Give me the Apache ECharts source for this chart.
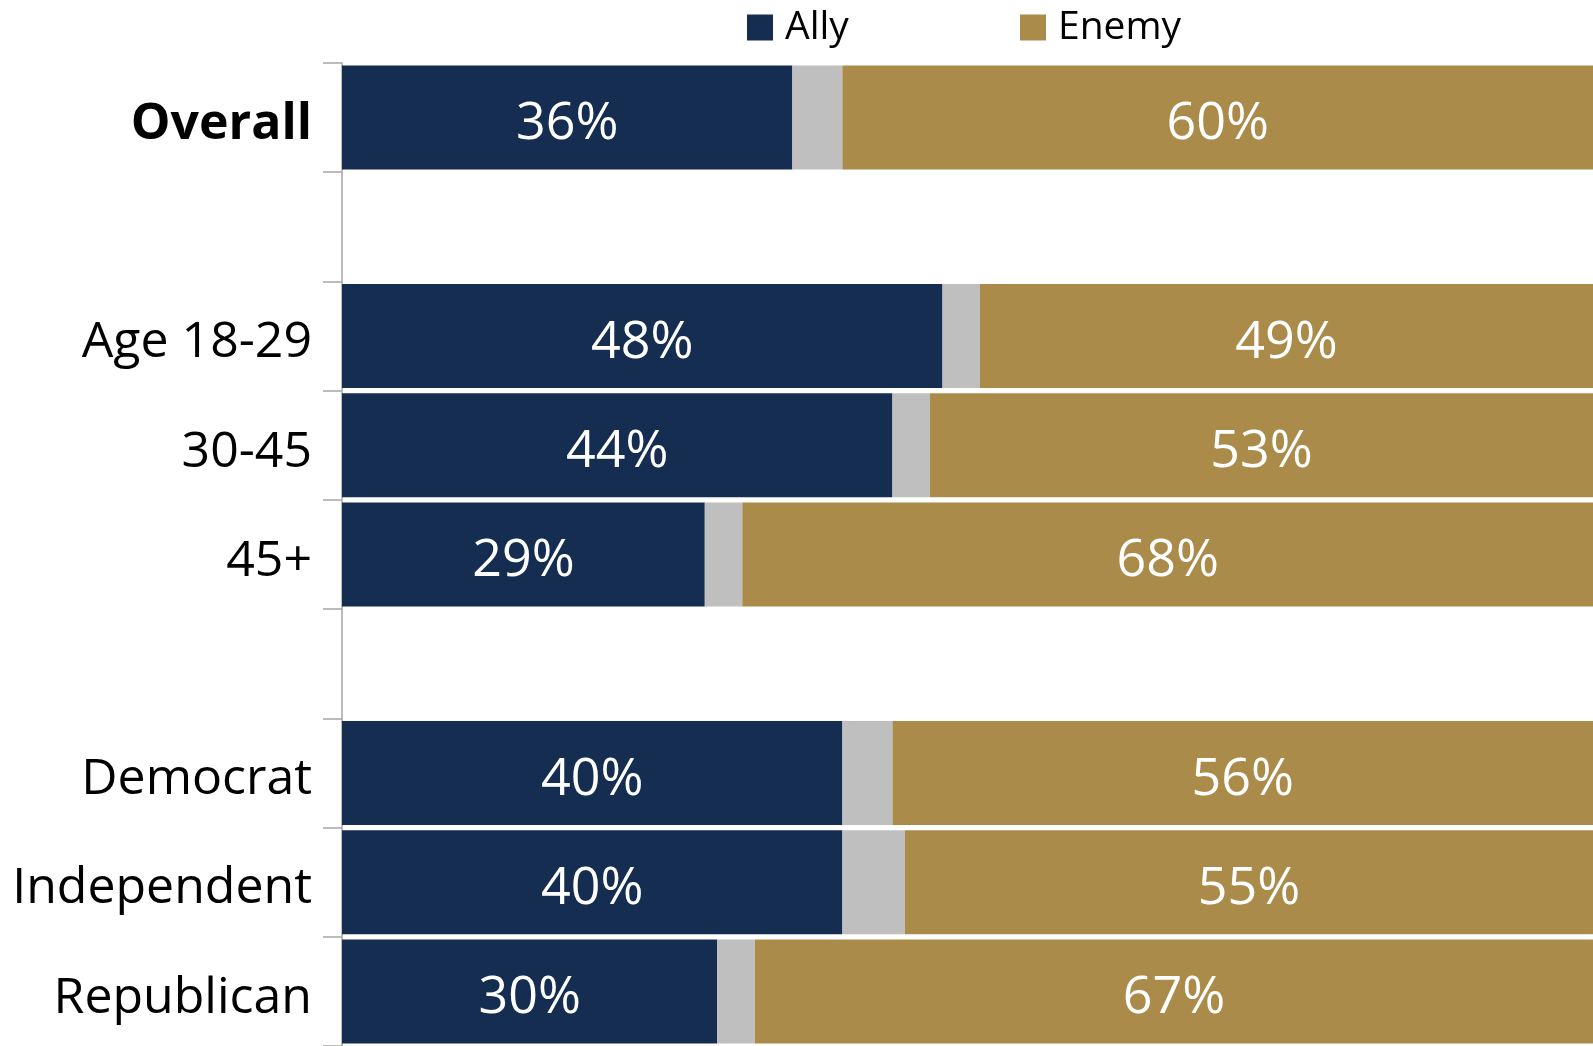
<!DOCTYPE html>
<html>
<head>
<meta charset="utf-8">
<title>Ally or Enemy</title>
<script src="https://cdn.jsdelivr.net/npm/echarts@6/dist/echarts.min.js"></script>
<style>
  html, body { margin: 0; padding: 0; background: #fff; }
  #chart { width: 1593px; height: 1046px; }
</style>
</head>
<body>
<div id="chart"></div>
<script>
// rows top to bottom, '' = spacer row
var categories = ['Overall', '', 'Age 18-29', '30-45', '45+', '', 'Democrat', 'Independent', 'Republican'];
var ally  = [36, '-', 48, 44, 29, '-', 40, 40, 30];
var other = [4,  '-', 3,  3,  3,  '-', 4,  5,  3];
var enemy = [60, '-', 49, 53, 68, '-', 56, 55, 67];

var font = '"Open Sans", "Noto Sans", sans-serif';

var myChart = echarts.init(document.getElementById('chart'));

var barLabel = {
  show: true,
  position: 'inside',
  offset: [0, 7],
  color: '#fff',
  fontFamily: font,
  fontSize: 52,
  fontWeight: 'normal',
  formatter: function (p) { return p.value + '%'; }
};

var legendText = { fontFamily: font, fontSize: 39, color: '#000', padding: [0, 0, 0, 7] };

myChart.setOption({
  animation: false,
  color: ['#142d50', '#bfbfbf', '#ab8b4a'],
  legend: [
    { data: ['Ally'], left: 742, top: 3, itemWidth: 26, itemHeight: 26, icon: 'rect', textStyle: legendText },
    { data: ['Enemy'], left: 1015, top: 3, itemWidth: 26, itemHeight: 26, icon: 'rect', textStyle: legendText }
  ],
  grid: { left: 342, right: 0, top: 63, bottom: 0, containLabel: false },
  xAxis: {
    type: 'value',
    min: 0,
    max: 100,
    show: false
  },
  yAxis: {
    type: 'category',
    inverse: true,
    data: categories,
    axisLine: { show: true, lineStyle: { color: '#a6a6a6', width: 1.5 } },
    axisTick: { show: true, length: 19, lineStyle: { color: '#a6a6a6', width: 1.5 } },
    axisLabel: {
      margin: 30,
      padding: [14, 0, 0, 0],
      fontFamily: font,
      fontSize: 50,
      color: '#000',
      formatter: function (v) { return v === 'Overall' ? '{b|' + v + '}' : v; },
      rich: {
        b: { fontFamily: font, fontSize: 50, fontWeight: 'bold', color: '#000' }
      }
    },
    splitLine: { show: false }
  },
  series: [
    { name: 'Ally', type: 'bar', stack: 'all', barWidth: 104, data: ally, label: barLabel },
    { name: 'Other', type: 'bar', stack: 'all', barWidth: 104, data: other, label: { show: false } },
    { name: 'Enemy', type: 'bar', stack: 'all', barWidth: 104, data: enemy, label: barLabel }
  ]
});
</script>
</body>
</html>
